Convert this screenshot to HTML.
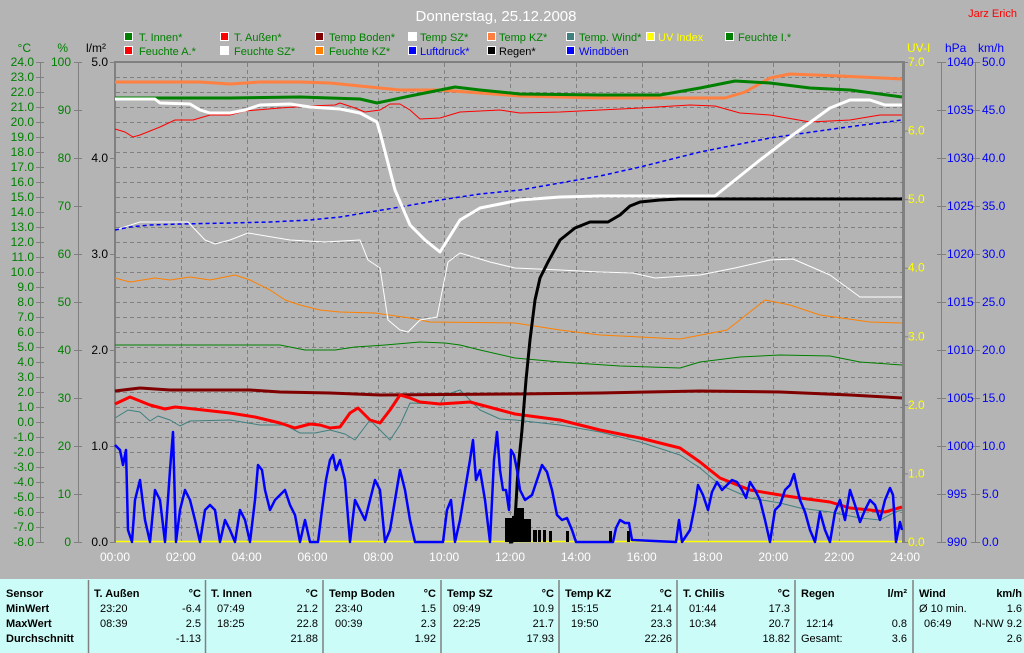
<!DOCTYPE html>
<html><head><meta charset="utf-8"><style>
html,body{margin:0;padding:0;background:#b4b4b4;}
svg{display:block;font-family:"Liberation Sans",sans-serif;}
</style></head><body>
<svg width="1024" height="653" viewBox="0 0 1024 653" xmlns="http://www.w3.org/2000/svg">
<rect width="1024" height="653" fill="#b4b4b4"/>
<text x="496" y="21" fill="#fff" font-size="15" text-anchor="middle">Donnerstag, 25.12.2008</text>
<text x="1017" y="17" fill="#f00" font-size="11" text-anchor="end">Jarz Erich</text>
<!-- legend -->
<g font-size="11">
<g stroke="#fff" stroke-width="1">
<rect x="124.5" y="32.5" width="8" height="8" fill="#008000"/><rect x="220.5" y="32.5" width="8" height="8" fill="#f00"/><rect x="315.5" y="32.5" width="8" height="8" fill="#800000"/><rect x="408.5" y="32.5" width="8" height="8" fill="#fff"/><rect x="487.5" y="32.5" width="8" height="8" fill="#ff8040"/><rect x="566.5" y="32.5" width="8" height="8" fill="#408080"/><rect x="646.5" y="32.5" width="8" height="8" fill="#ff0"/><rect x="725.5" y="32.5" width="8" height="8" fill="#008000"/>
<rect x="124.5" y="46.5" width="8" height="8" fill="#f00"/><rect x="220.5" y="46.5" width="8" height="8" fill="#fff"/><rect x="315.5" y="46.5" width="8" height="8" fill="#ff8000"/><rect x="408.5" y="46.5" width="8" height="8" fill="#00f"/><rect x="487.5" y="46.5" width="8" height="8" fill="#000"/><rect x="566.5" y="46.5" width="8" height="8" fill="#00f"/>
</g>
<g fill="#008000">
<text x="139" y="41">T. Innen*</text><text x="234" y="41">T. Außen*</text><text x="329" y="41">Temp Boden*</text><text x="420" y="41">Temp SZ*</text><text x="499" y="41">Temp KZ*</text><text x="579" y="41">Temp. Wind*</text><text x="738" y="41">Feuchte I.*</text>
<text x="139" y="55">Feuchte A.*</text><text x="234" y="55">Feuchte SZ*</text><text x="329" y="55">Feuchte KZ*</text>
</g>
<text x="658" y="41" fill="#ff0">UV Index</text>
<text x="420" y="55" fill="#00f">Luftdruck*</text><text x="499" y="55" fill="#000">Regen*</text><text x="579" y="55" fill="#00f">Windböen</text>
</g>
<!-- axes left -->
<g font-size="12">
<text x="31" y="52" fill="#008000" text-anchor="end">°C</text>
<text x="68" y="52" fill="#008000" text-anchor="end">%</text>
<text x="106" y="52" fill="#000" text-anchor="end">l/m²</text>
<text x="907" y="52" fill="#ff0">UV-I</text>
<text x="945" y="52" fill="#00f">hPa</text>
<text x="978" y="52" fill="#00f">km/h</text>
</g>
<g stroke="#808080" stroke-width="1">
<line x1="40.5" y1="62" x2="40.5" y2="542"/>
<line x1="78.5" y1="62" x2="78.5" y2="542"/>
<line x1="941.5" y1="62" x2="941.5" y2="542"/>
<line x1="975.5" y1="62" x2="975.5" y2="542"/>
</g>
<g id="ticks" stroke="#808080"></g>
<g id="labels" font-size="12"></g>
<!-- plot -->
<g id="grid" stroke="#808080" stroke-dasharray="4,3"></g>
<rect x="114" y="61" width="2" height="482" fill="#808080"/>
<rect x="114" y="61" width="791" height="2" fill="#808080"/>
<rect x="902" y="61" width="3" height="482" fill="#808080"/>
<line x1="116" y1="541.5" x2="902" y2="541.5" stroke="#ff0" stroke-width="1.5"/>
<g fill="none" stroke-linejoin="round">
<!-- thin orange Feuchte KZ -->
<polyline stroke="#ff8000" stroke-width="1" points="115,278 130,282 155,278 170,280 190,277 210,280 235,275 250,280 270,290 285,300 300,305 320,310 340,312 375,313 410,318 430,322 515,323 560,330 600,335 680,339 727,330 765,300 790,305 820,315 870,322 902,323"/>
<!-- thin white Temp SZ -->
<polyline stroke="#fff" stroke-width="1" points="115,230 140,222 188,222 205,240 215,244 230,240 248,233 290,240 325,242 360,240 368,260 380,268 388,320 400,330 408,332 420,320 437,317 448,262 460,253 490,262 515,268 560,270 600,272 633,273 655,278 700,275 735,268 770,260 793,259 830,275 860,297 902,297"/>
<!-- thin green Feuchte I -->
<polyline stroke="#008000" stroke-width="1" points="115,345 280,345 305,350 335,350 355,347 385,345 420,342 445,343 460,345 480,350 515,358 560,362 620,366 680,368 700,362 740,357 780,355 830,356 860,362 902,365"/>
<!-- teal Temp Wind -->
<polyline stroke="#408080" stroke-width="1" points="115,418 128,410 140,412 150,421 158,416 170,420 180,426 190,421 230,420 260,425 285,425 300,433 315,433 330,430 345,434 355,440 370,420 380,430 390,440 400,425 410,403 440,404 445,395 460,390 480,410 500,419 515,420 560,425 600,432 640,442 680,455 700,468 720,485 750,498 780,503 800,508 830,512 860,518 880,520 895,512 902,510"/>
<!-- dark red Temp Boden -->
<polyline stroke="#800000" stroke-width="3" points="115,391 140,388 170,390 250,390 280,392 330,393 380,395 515,394 600,393 700,391 780,392 850,395 902,398"/>
<!-- red thick T Aussen -->
<polyline stroke="#f00" stroke-width="3" points="115,404 130,397 150,405 165,409 175,407 185,408 230,413 255,417 280,423 295,428 310,424 320,425 330,428 340,427 350,413 358,408 370,420 380,423 390,410 400,395 410,398 420,402 440,404 470,402 500,410 515,414 560,420 600,430 640,438 680,448 700,462 720,478 750,490 780,495 800,498 830,502 850,508 870,510 885,512 902,507"/>
<!-- blue dashed Luftdruck -->
<polyline stroke="#00f" stroke-width="1.5" stroke-dasharray="4,3" points="115,230 130,227 150,225 180,224 230,223 270,222 310,220 340,217 370,212 400,207 440,200 480,194 520,190 560,183 600,176 640,167 700,152 770,138 840,128 902,120"/>
<!-- red thin Feuchte A -->
<polyline stroke="#f00" stroke-width="1" points="115,129 125,132 133,137 140,135 160,127 175,120 193,120 210,115 230,115 245,111 280,108 310,106 335,105 340,103 355,108 365,112 380,110 390,104 400,104 410,110 420,119 440,118 460,112 500,110 520,113 560,112 600,110 640,108 690,105 715,106 740,113 770,115 810,122 850,120 880,115 902,115"/>
<!-- orange thick Temp KZ -->
<polyline stroke="#ff8040" stroke-width="3" points="115,82 200,82 230,84 260,82 300,82 330,83 360,86 400,90 440,90 480,93 520,96 560,97 600,98 725,98 745,92 770,78 790,74 840,76 902,79"/>
<!-- green thick T Innen -->
<polyline stroke="#008000" stroke-width="3" points="115,98 200,98 230,98 300,97 360,99 377,103 410,96 440,90 455,87 480,90 520,94 600,95 660,95 700,88 735,81 770,83 810,88 850,90 902,97"/>
<!-- white thick Feuchte SZ -->
<polyline stroke="#fff" stroke-width="3" points="115,99 155,99 160,103 190,104 200,110 210,113 230,113 245,110 260,105 290,104 310,107 340,109 360,113 377,122 382,140 395,190 410,225 425,240 440,252 460,220 480,208 520,200 560,197 600,196 715,196 735,180 760,160 790,137 830,108 850,100 870,100 885,105 902,105"/>
<!-- rain cumulative -->
<polyline stroke="#000" stroke-width="3" points="509,542 512,542 515,520 518,470 522,430 526,380 530,340 535,300 540,278 548,262 560,240 575,228 590,222 608,222 620,215 630,206 640,202 660,200 680,199 902,199"/>
<!-- wind gusts -->
<polyline stroke="#00f" stroke-width="2.5" points="115,445 120,450 123,465 126,450 128,530 132,542 135,500 140,480 145,520 150,542 155,490 160,500 165,542 170,470 173,432 176,542 180,510 185,490 190,500 195,520 200,542 205,510 210,505 215,510 220,542 225,520 230,530 235,542 240,510 245,520 250,542 255,500 258,465 262,470 265,490 270,510 275,500 280,495 285,490 290,505 295,515 300,542 305,520 310,542 318,542 322,510 326,480 330,460 333,455 336,470 340,460 345,480 350,542 355,500 360,510 365,520 370,500 375,480 380,490 385,542 390,530 395,500 400,470 405,490 410,520 415,542 443,542 447,510 451,500 455,542 460,520 465,490 470,460 473,440 476,480 480,470 485,500 490,542 494,460 497,432 500,470 503,490 506,490 509,510 511,450 514,455 517,470 520,490 525,500 532,495 537,480 542,465 547,472 552,490 557,515 562,520 567,518 572,530 576,542 613,542 616,528 620,520 625,523 629,523 632,540 676,542 679,520 682,542 690,530 695,505 698,485 703,495 708,510 712,492 717,482 722,490 727,485 732,480 737,482 742,490 746,498 750,482 755,490 760,500 765,520 770,542 775,510 780,505 785,490 790,485 794,474 797,488 800,500 805,512 810,530 815,542 820,512 825,530 830,542 835,512 840,500 845,520 850,490 855,505 860,522 865,510 870,500 875,505 880,520 885,500 890,488 893,495 896,542 900,522 902,530"/>
</g>
<!-- rain bars -->
<g fill="#000">
<rect x="505" y="518" width="7" height="24"/><rect x="512" y="516" width="4" height="26"/><rect x="516" y="508" width="8" height="34"/><rect x="524" y="519" width="7" height="23"/><rect x="533" y="530" width="4" height="12"/><rect x="538" y="530" width="3" height="12"/><rect x="543" y="530" width="3" height="12"/><rect x="549" y="531" width="3" height="11"/><rect x="566" y="531" width="3" height="11"/><rect x="609" y="531" width="3" height="11"/><rect x="627" y="531" width="3" height="11"/>
</g>
<!-- table -->
<rect x="0" y="579" width="1024" height="74" fill="#ccfcf8"/>
<g stroke="#808080" stroke-width="1.5">
<line x1="88.5" y1="580" x2="88.5" y2="653"/><line x1="205.5" y1="580" x2="205.5" y2="653"/><line x1="323" y1="580" x2="323" y2="653"/><line x1="441" y1="580" x2="441" y2="653"/><line x1="559" y1="580" x2="559" y2="653"/><line x1="677" y1="580" x2="677" y2="653"/><line x1="795" y1="580" x2="795" y2="653"/><line x1="913" y1="580" x2="913" y2="653"/>
</g>
<g font-size="11" fill="#000" id="tbl"></g>
</svg>
<script>
var NS="http://www.w3.org/2000/svg";
function t(parent,x,y,s,fill,anchor,bold){var e=document.createElementNS(NS,"text");e.setAttribute("x",x);e.setAttribute("y",y);e.setAttribute("fill",fill||"#000");if(anchor)e.setAttribute("text-anchor",anchor);if(bold)e.setAttribute("font-weight","bold");e.textContent=s;parent.appendChild(e);}
function l(parent,x1,y1,x2,y2){var e=document.createElementNS(NS,"line");e.setAttribute("x1",x1);e.setAttribute("y1",y1);e.setAttribute("x2",x2);e.setAttribute("y2",y2);parent.appendChild(e);}
var g=document.getElementById("grid"),tk=document.getElementById("ticks"),lb=document.getElementById("labels");
for(var i=1;i<32;i++){var y=62+i*15+0.5;l(g,116,y,902,y);}
for(var k=1;k<12;k++){var x=Math.round(115+k*790/12)+0.5;l(g,x,63,x,542);}
for(var i=0;i<=32;i++){var y=62+i*15;l(tk,36,y+0.5,44,y+0.5);t(lb,34,y+4,(24-i).toFixed(1),"#008000","end");}
for(var v=100;v>=0;v-=10){var y=62+(100-v)*4.8;l(tk,74,y+0.5,82,y+0.5);t(lb,71,y+4,v,"#008000","end");}
for(var v=5;v>=0;v--){var y=62+(5-v)*96;l(tk,110,y+0.5,114,y+0.5);t(lb,108,y+4,v.toFixed(1),"#000","end");}
for(var v=7;v>=0;v--){var y=62+(7-v)*480/7;l(tk,903,y+0.5,908,y+0.5);t(lb,908,y+4,v.toFixed(1),"#ff0");}
for(var v=1040;v>=990;v-=5){var y=62+(1040-v)*9.6;l(tk,937,y+0.5,946,y+0.5);t(lb,947,y+4,v,"#00f");}
for(var v=50;v>=0;v-=5){var y=62+(50-v)*9.6;l(tk,971,y+0.5,980,y+0.5);t(lb,982,y+4,v.toFixed(1),"#00f");}
for(var k=0;k<=12;k++){var x=115+k*790/12;var h=(k*2<10?"0":"")+(k*2)+":00";t(lb,x,561,h,"#fff","middle");}
var tb=document.getElementById("tbl");
var rows=[597,612,627,642];
t(tb,6,rows[0],"Sensor","#000",null,1);t(tb,6,rows[1],"MinWert","#000",null,1);t(tb,6,rows[2],"MaxWert","#000",null,1);t(tb,6,rows[3],"Durchschnitt","#000",null,1);
var cols=[
[88,"T. Außen","°C",["23:20","-6.4"],["08:39","2.5"],"-1.13"],
[205,"T. Innen","°C",["07:49","21.2"],["18:25","22.8"],"21.88"],
[323,"Temp Boden","°C",["23:40","1.5"],["00:39","2.3"],"1.92"],
[441,"Temp SZ","°C",["09:49","10.9"],["22:25","21.7"],"17.93"],
[559,"Temp KZ","°C",["15:15","21.4"],["19:50","23.3"],"22.26"],
[677,"T. Chilis","°C",["01:44","17.3"],["10:34","20.7"],"18.82"]];
cols.forEach(function(c){var x=c[0];t(tb,x+6,rows[0],c[1],"#000",null,1);t(tb,x+113,rows[0],c[2],"#000","end",1);
t(tb,x+12,rows[1],c[3][0]);t(tb,x+113,rows[1],c[3][1],"#000","end");t(tb,x+12,rows[2],c[4][0]);t(tb,x+113,rows[2],c[4][1],"#000","end");t(tb,x+113,rows[3],c[5],"#000","end");});
t(tb,801,rows[0],"Regen","#000",null,1);t(tb,907,rows[0],"l/m²","#000","end",1);
t(tb,806,rows[2],"12:14");t(tb,907,rows[2],"0.8","#000","end");t(tb,801,rows[3],"Gesamt:");t(tb,907,rows[3],"3.6","#000","end");
t(tb,919,rows[0],"Wind","#000",null,1);t(tb,1022,rows[0],"km/h","#000","end",1);
t(tb,919,rows[1],"Ø 10 min.");t(tb,1022,rows[1],"1.6","#000","end");t(tb,924,rows[2],"06:49");t(tb,1022,rows[2],"N-NW 9.2","#000","end");t(tb,1022,rows[3],"2.6","#000","end");
</script>
</body></html>
